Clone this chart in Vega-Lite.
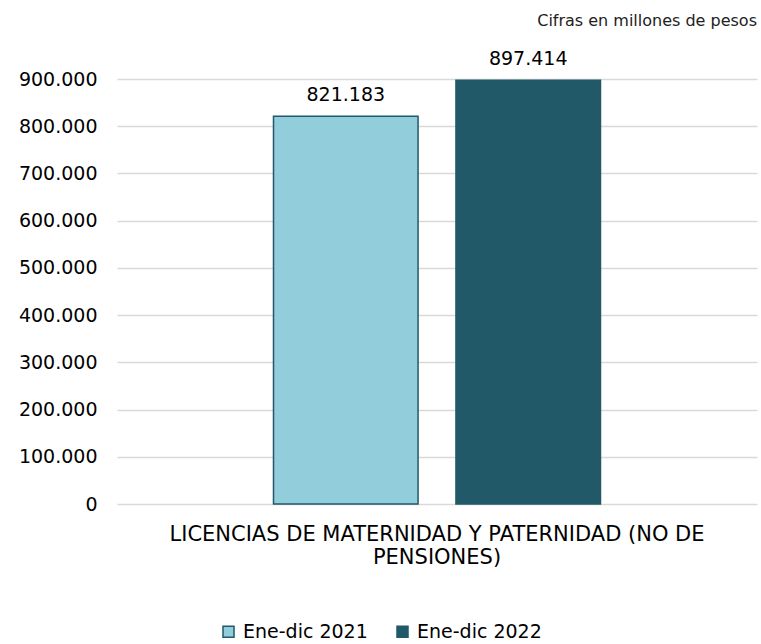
{
  "$schema": "https://vega.github.io/schema/vega-lite/v6.json",
  "width": 640,
  "height": 425,
  "autosize": {"type": "none"},
  "padding": {"left": 117, "top": 79, "right": 4, "bottom": 140},
  "background": "white",
  "config": {
    "locale": {"number": {"decimal": ",", "thousands": ".", "grouping": [3], "currency": ["$", ""]}},
    "font": "DejaVu Sans",
    "view": {"stroke": null}
  },
  "title": {
    "text": "Cifras en millones de pesos",
    "anchor": "end",
    "frame": "group",
    "fontSize": 16,
    "fontWeight": "normal",
    "color": "#222222",
    "offset": 21
  },
  "data": {
    "values": [
      {"concepto": "LICENCIAS DE MATERNIDAD Y PATERNIDAD (NO DE PENSIONES)", "periodo": "Ene-dic 2021", "valor": 821183},
      {"concepto": "LICENCIAS DE MATERNIDAD Y PATERNIDAD (NO DE PENSIONES)", "periodo": "Ene-dic 2022", "valor": 897414}
    ]
  },
  "encoding": {
    "x": {
      "field": "concepto",
      "type": "nominal",
      "scale": {"paddingInner": 0, "paddingOuter": 0.4786},
      "axis": {
        "title": null,
        "domain": false,
        "ticks": false,
        "labelAngle": 0,
        "labelFontSize": 21,
        "labelColor": "#000000",
        "labelPadding": 19,
        "labelBaseline": "top",
        "labelLineHeight": 23,
        "labelLimit": 0,
        "labelExpr": "['LICENCIAS DE MATERNIDAD Y PATERNIDAD (NO DE', 'PENSIONES)']"
      }
    },
    "xOffset": {
      "field": "periodo",
      "type": "nominal",
      "scale": {"paddingInner": 0.2077, "paddingOuter": 0}
    },
    "y": {
      "field": "valor",
      "type": "quantitative",
      "scale": {"domain": [0, 900000], "nice": false},
      "axis": {
        "title": null,
        "domain": false,
        "ticks": false,
        "values": [0, 100000, 200000, 300000, 400000, 500000, 600000, 700000, 800000, 900000],
        "labelExpr": "format(datum.value, ',')",
        "labelFontSize": 19,
        "labelColor": "#000000",
        "labelPadding": 20,
        "gridColor": "#d9d9d9",
        "gridWidth": 1.5
      }
    }
  },
  "layer": [
    {
      "mark": {"type": "bar", "stroke": "#215968", "strokeWidth": 1.5},
      "encoding": {
        "color": {
          "field": "periodo",
          "type": "nominal",
          "scale": {"domain": ["Ene-dic 2021", "Ene-dic 2022"], "range": ["#92cddc", "#215968"]},
          "legend": {
            "title": null,
            "orient": "none",
            "direction": "horizontal",
            "legendX": 102,
            "legendY": 543,
            "symbolType": "square",
            "symbolSize": 121,
            "symbolStrokeColor": "#215968",
            "symbolStrokeWidth": 1.5,
            "labelFontSize": 19,
            "labelColor": "#000000",
            "labelOffset": 5,
            "columnPadding": 25,
            "labelLimit": 0
          }
        }
      }
    },
    {
      "mark": {"type": "text", "baseline": "alphabetic", "dy": -15, "fontSize": 19, "color": "#000000"},
      "encoding": {
        "text": {"field": "valor", "type": "quantitative", "format": ","}
      }
    }
  ]
}
